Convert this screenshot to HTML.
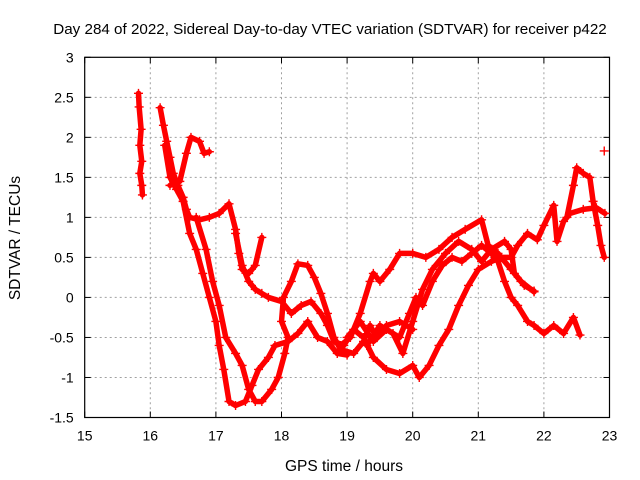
<!DOCTYPE html>
<html><head><meta charset="utf-8"><style>
body{margin:0;background:#fff}
svg{display:block;font-family:"Liberation Sans",sans-serif}
</style></head><body>
<svg width="640" height="480" xmlns="http://www.w3.org/2000/svg">
<rect width="640" height="480" fill="#fff"/>
<text x="330" y="34" font-size="15.2" text-anchor="middle">Day 284 of 2022, Sidereal Day-to-day VTEC variation (SDTVAR) for receiver p422</text>
<g id="grid"></g>
<g id="axes"></g>
<g id="series"></g>
<text x="344" y="471" font-size="15.5" text-anchor="middle">GPS time / hours</text>
<text x="0" y="0" font-size="15.5" text-anchor="middle" transform="translate(20,238) rotate(-90)">SDTVAR / TECUs</text>
</svg>
<script>
const xTicks=[15,16,17,18,19,20,21,22,23];
const yTicks=[3,2.5,2,1.5,1,0.5,0,-0.5,-1,-1.5];
const yTickLabels=["3","2.5","2","1.5","1","0.5","0","-0.5","-1","-1.5"];
const T1=[[15.82,2.55],[15.83,2.38],[15.86,2.1],[15.84,1.9],[15.87,1.7],[15.84,1.55],[15.87,1.4],[15.88,1.28]];
const T2=[[16.15,2.37],[16.2,2.15],[16.25,1.95],[16.3,1.75],[16.35,1.55],[16.42,1.4],[16.5,1.25],[16.55,1.1],[16.6,1.0],[16.75,0.97],[16.9,1.0],[17.05,1.05],[17.2,1.17],[17.3,0.85],[17.35,0.55],[17.4,0.35],[17.5,0.3],[17.6,0.4],[17.7,0.75]];
const T3=[[16.22,1.9],[16.3,1.5],[16.4,1.35],[16.5,1.2],[16.6,0.8],[16.7,0.6],[16.8,0.3],[16.9,0.0],[17.0,-0.3],[17.05,-0.6],[17.12,-0.9],[17.2,-1.3],[17.3,-1.35],[17.45,-1.3],[17.55,-1.1],[17.65,-0.9],[17.8,-0.75],[17.9,-0.6],[18.1,-0.55],[18.25,-0.45],[18.4,-0.3],[18.55,-0.5],[18.7,-0.55],[18.85,-0.7],[19.0,-0.72]];
const T4=[[16.3,1.4],[16.45,1.45],[16.55,1.8],[16.62,2.0],[16.75,1.95],[16.82,1.8],[16.9,1.82]];
const T5=[[16.7,1.0],[16.85,0.6],[16.95,0.2],[17.05,-0.1],[17.15,-0.5],[17.3,-0.7],[17.4,-0.85],[17.5,-1.15],[17.6,-1.3],[17.7,-1.3],[17.85,-1.15],[17.95,-1.0],[18.05,-0.7],[18.1,-0.5],[18.0,-0.3],[18.03,0.0],[18.15,0.2],[18.25,0.42],[18.4,0.4],[18.5,0.25],[18.6,0.05],[18.7,-0.2],[18.8,-0.5],[18.9,-0.65],[19.1,-0.7],[19.25,-0.55],[19.35,-0.35],[19.45,-0.5],[19.6,-0.35],[19.8,-0.3],[20.0,-0.4]];
const T6=[[17.3,0.8],[17.4,0.4],[17.5,0.2],[17.6,0.1],[17.7,0.05],[17.8,0.0],[18.0,-0.05],[18.15,-0.2],[18.3,-0.1],[18.45,-0.05],[18.6,-0.2],[18.7,-0.35],[18.8,-0.55],[18.95,-0.6],[19.1,-0.4],[19.25,-0.5],[19.4,-0.75],[19.6,-0.9],[19.8,-0.95],[20.0,-0.85],[20.1,-1.0],[20.25,-0.85],[20.4,-0.6],[20.55,-0.4],[20.7,-0.1],[20.85,0.15],[21.0,0.35],[21.2,0.45],[21.35,0.5],[21.5,0.5],[21.6,0.65],[21.75,0.8],[21.9,0.72],[22.0,0.9],[22.15,1.15],[22.2,0.7],[22.3,0.95],[22.4,1.05],[22.6,1.1],[22.8,1.12],[22.93,1.05]];
const T7=[[18.9,-0.6],[19.05,-0.5],[19.2,-0.2],[19.35,0.2],[19.4,0.3],[19.5,0.2],[19.65,0.35],[19.8,0.55],[20.0,0.55],[20.2,0.5],[20.4,0.6],[20.6,0.75],[20.8,0.85],[21.05,0.97],[21.15,0.65],[21.3,0.55],[21.5,0.35],[21.65,0.2],[21.85,0.07]];
const T8=[[19.0,-0.5],[19.2,-0.3],[19.4,-0.55],[19.6,-0.4],[19.8,-0.5],[19.95,-0.2],[20.05,0.0],[20.15,-0.1],[20.3,0.2],[20.45,0.4],[20.6,0.5],[20.75,0.45],[20.9,0.55],[21.05,0.65],[21.2,0.55],[21.3,0.45],[21.4,0.2],[21.5,0.0],[21.6,-0.1],[21.75,-0.3],[21.85,-0.35],[22.0,-0.45],[22.15,-0.35],[22.3,-0.45],[22.45,-0.25],[22.55,-0.47]];
const T9=[[19.3,-0.6],[19.5,-0.35],[19.7,-0.45],[19.85,-0.7],[20.0,-0.3],[20.15,0.1],[20.3,0.35],[20.5,0.55],[20.7,0.7],[20.9,0.6],[21.05,0.45],[21.2,0.6],[21.4,0.7],[21.5,0.6],[21.55,0.3],[21.7,0.15],[21.85,0.08]];
const T10=[[22.35,1.0],[22.45,1.4],[22.5,1.62],[22.6,1.55],[22.7,1.5],[22.75,1.2],[22.82,0.9],[22.87,0.65],[22.92,0.5]];
const T11=[[22.92,1.83]];
const seriesList=[T1,T2,T3,T4,T5,T6,T7,T8,T9,T10,T11];

const X0=84.7,X1=609.5,Y0=57.3,Y1=417.5;
function sx(t){return X0+(t-15)/8*(X1-X0);}
function sy(v){return Y0+(3-v)/4.5*(Y1-Y0);}
const NS="http://www.w3.org/2000/svg";
function mk(tag,attrs,parent){const e=document.createElementNS(NS,tag);for(const k in attrs)e.setAttribute(k,attrs[k]);parent.appendChild(e);return e;}
const grid=document.getElementById('grid'),axes=document.getElementById('axes'),ser=document.getElementById('series');
xTicks.forEach((t,i)=>{
  if(i>0&&i<xTicks.length-1){const l=mk('line',{x1:sx(t),x2:sx(t),y1:Y0,y2:Y1,stroke:'#a0a0a0','stroke-dasharray':'2,3'},grid);
  
  }
  mk('line',{x1:sx(t),x2:sx(t),y1:Y1,y2:Y1-6,stroke:'#000'},axes);
  mk('line',{x1:sx(t),x2:sx(t),y1:Y0,y2:Y0+6,stroke:'#000'},axes);
  const tx=mk('text',{x:sx(t),y:Y1+23,'font-size':14,'text-anchor':'middle'},axes);tx.textContent=String(t);
  
  
});
yTicks.forEach((v,i)=>{
  if(i>0&&i<yTicks.length-1){const l=mk('line',{x1:X0,x2:X1,y1:sy(v),y2:sy(v),stroke:'#a0a0a0','stroke-dasharray':'2,3'},grid);
  
  }
  mk('line',{x1:X0,x2:X0+6,y1:sy(v),y2:sy(v),stroke:'#000'},axes);
  mk('line',{x1:X1,x2:X1-6,y1:sy(v),y2:sy(v),stroke:'#000'},axes);
  const tx=mk('text',{x:X0-11,y:sy(v)+5,'font-size':14,'text-anchor':'end'},axes);tx.textContent=yTickLabels[i];
  
  
});
const fr=mk('rect',{x:X0,y:Y0,width:X1-X0,height:Y1-Y0,fill:'none',stroke:'#000','stroke-width':1.2},axes);


seriesList.forEach((s,i)=>{
  const g=mk('g',{},ser);
  
  
  if(s.length>1){mk('polyline',{points:s.map(p=>sx(p[0])+','+sy(p[1])).join(' '),fill:'none',stroke:'#f00','stroke-width':5.5,'stroke-linejoin':'round','stroke-linecap':'round'},g);}
  s.forEach(p=>{const x=sx(p[0]),y=sy(p[1]);
    mk('path',{d:`M${x-4.5},${y}H${x+4.5}M${x},${y-4.5}V${y+4.5}`,stroke:'#f00','stroke-width':1.4},g);});
});
</script>
</body></html>
